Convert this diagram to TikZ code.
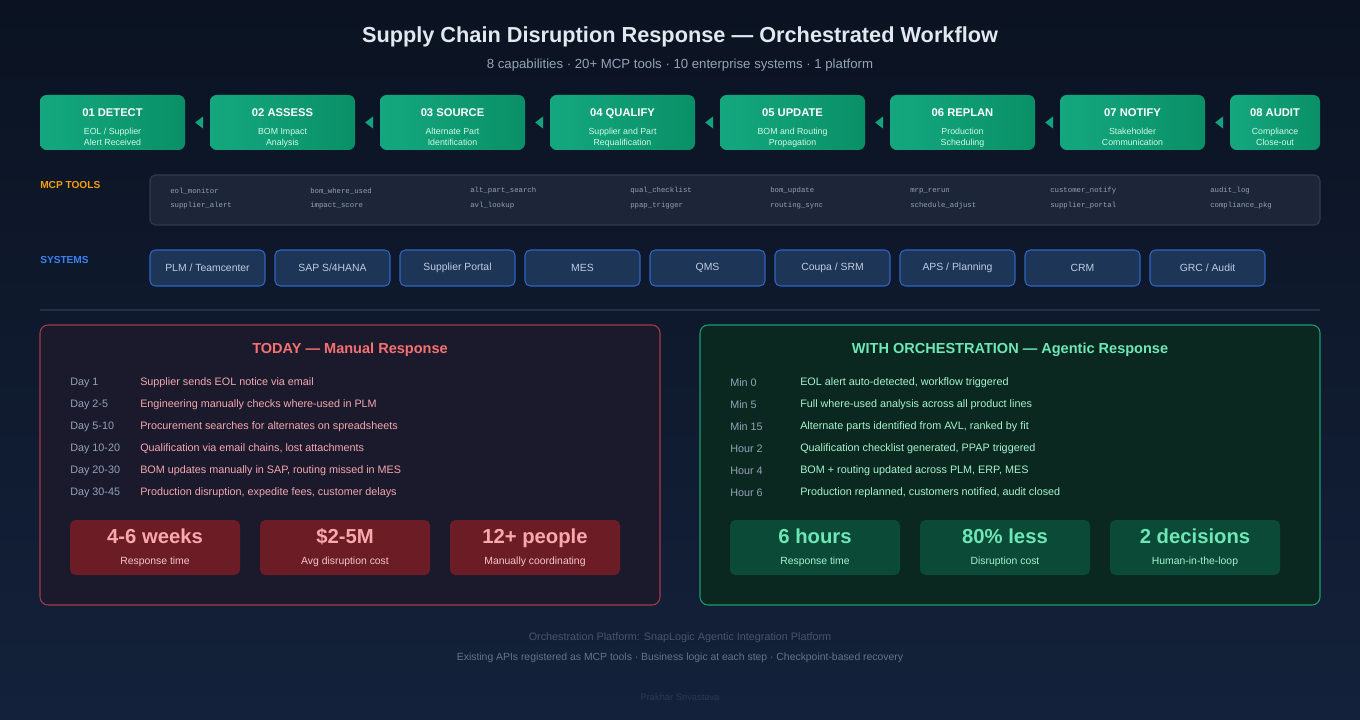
\documentclass[tikz,border=0pt]{standalone}
\usepackage{fontspec}
\setmainfont{Liberation Sans}
\setmonofont{Liberation Mono}
\usetikzlibrary{shapes.geometric,positioning,calc}

\definecolor{bgtop}{HTML}{0B1322}
\definecolor{bgbot}{HTML}{13213A}
\definecolor{titlec}{HTML}{E2E8F0}
\definecolor{subc}{HTML}{94A3B8}
\definecolor{stepl}{HTML}{14A87F}
\definecolor{stepr}{HTML}{0A9067}
\definecolor{stepsub}{HTML}{D1FAE5}
\definecolor{tipc}{HTML}{14A37F}
\definecolor{mcpc}{HTML}{F59E0B}
\definecolor{sysc}{HTML}{3B82F6}
\definecolor{toolfill}{HTML}{1C2638}
\definecolor{tooldraw}{HTML}{2F3B4F}
\definecolor{toolc}{HTML}{94A3B8}
\definecolor{sysfill}{HTML}{1D3557}
\definecolor{sysdraw}{HTML}{2F64C4}
\definecolor{systext}{HTML}{C0CDE0}
\definecolor{divc}{HTML}{233047}
\definecolor{redfill}{HTML}{1B1A2D}
\definecolor{reddraw}{HTML}{A53A48}
\definecolor{redtitle}{HTML}{F87171}
\definecolor{redtext}{HTML}{F4A7AE}
\definecolor{redstat}{HTML}{6B1C24}
\definecolor{redbig}{HTML}{F9A8AE}
\definecolor{redsmall}{HTML}{F5C6CA}
\definecolor{grnfill}{HTML}{0A2820}
\definecolor{grndraw}{HTML}{1D9A72}
\definecolor{grntitle}{HTML}{6EE7B7}
\definecolor{grntext}{HTML}{A7F3D0}
\definecolor{grnstat}{HTML}{0A4A37}
\definecolor{foot}{HTML}{475569}
\definecolor{foottwo}{HTML}{64748B}
\definecolor{authc}{HTML}{2B3A52}

\newcommand{\stepcard}[3]{\rule{0pt}{15pt}{\color{white}\bfseries\fontsize{8.4}{10}\selectfont #1}\\[4.75pt]#2\\#3\rule[-2pt]{0pt}{2pt}}
\newcommand{\bignum}[2]{{\color{#1}\bfseries\fontsize{15.2}{17}\selectfont #2}}

\begin{document}
\begin{tikzpicture}[x=0.75pt, y=-0.75pt]
    \tikzset{
        stepbox/.style={rectangle, rounded corners=5pt, left color=stepl, right color=stepr, minimum height=41.25pt, minimum width=108.75pt, align=center, text=stepsub, font=\fontsize{6.6}{8.25}\selectfont, inner sep=0pt},
        flowtip/.style={isosceles triangle, isosceles triangle apex angle=75, shape border rotate=180, fill=tipc, inner sep=0pt, minimum height=6pt, minimum width=7.5pt, xshift=2pt},
        rowlabel/.style={font=\bfseries\fontsize{7.6}{9}\selectfont, anchor=west, inner sep=0pt},
        tool/.style={font=\ttfamily\fontsize{5.5}{7}\selectfont, text=toolc, anchor=west, inner sep=0pt},
        sysbox/.style={draw=sysdraw, fill=sysfill, rectangle, rounded corners=4pt, line width=0.8pt, minimum height=27pt, minimum width=86.25pt, text=systext, font=\fontsize{7.8}{9}\selectfont},
        panel/.style={rectangle, rounded corners=6pt, line width=0.8pt, minimum width=465pt, minimum height=210pt},
        paneltitle/.style={font=\bfseries\fontsize{10.9}{13}\selectfont},
        when/.style={font=\fontsize{8.1}{10}\selectfont, text=subc, anchor=west, inner sep=0pt},
        what/.style={font=\fontsize{8.1}{10}\selectfont, anchor=west, inner sep=0pt},
        stat/.style={rectangle, rounded corners=4pt, minimum width=127.5pt, minimum height=41.25pt, align=center, inner sep=0pt, font=\fontsize{7.8}{9}\selectfont}
    }

    % Background
    \fill[top color=bgtop, bottom color=bgbot] (0,0) rectangle (1360,720);
    \useasboundingbox (0,0) rectangle (1360,720);

    % Heading
    \node[text=titlec, font=\bfseries\fontsize{16.3}{19}\selectfont] (title) at (680,37) {Supply Chain Disruption Response — Orchestrated Workflow};
    \node[text=subc, font=\fontsize{9.9}{12}\selectfont] (subtitle) at (680,65) {8 capabilities · 20+ MCP tools · 10 enterprise systems · 1 platform};

    % Workflow steps
    \node[stepbox] (s1) at (112.5,122.5) {\stepcard{01 DETECT}{EOL / Supplier}{Alert Received}};
    \node[stepbox] (s2) at (282.5,122.5) {\stepcard{02 ASSESS}{BOM Impact}{Analysis}};
    \node[stepbox] (s3) at (452.5,122.5) {\stepcard{03 SOURCE}{Alternate Part}{Identification}};
    \node[stepbox] (s4) at (622.5,122.5) {\stepcard{04 QUALIFY}{Supplier and Part}{Requalification}};
    \node[stepbox] (s5) at (792.5,122.5) {\stepcard{05 UPDATE}{BOM and Routing}{Propagation}};
    \node[stepbox] (s6) at (962.5,122.5) {\stepcard{06 REPLAN}{Production}{Scheduling}};
    \node[stepbox] (s7) at (1132.5,122.5) {\stepcard{07 NOTIFY}{Stakeholder}{Communication}};
    \node[stepbox, minimum width=67.5pt] (s8) at (1275,122.5) {\stepcard{08 AUDIT}{Compliance}{Close-out}};

    % Step markers
    \path (s2.west) -- node[flowtip] {} (s1.east);
    \path (s3.west) -- node[flowtip] {} (s2.east);
    \path (s4.west) -- node[flowtip] {} (s3.east);
    \path (s5.west) -- node[flowtip] {} (s4.east);
    \path (s6.west) -- node[flowtip] {} (s5.east);
    \path (s7.west) -- node[flowtip] {} (s6.east);
    \path (s8.west) -- node[flowtip] {} (s7.east);

    % MCP tools row
    \node[rowlabel, text=mcpc] (mcp) at (40,185) {MCP TOOLS};
    \node[draw=tooldraw, fill=toolfill, rectangle, rounded corners=4pt, line width=0.8pt, minimum width=877.5pt, minimum height=37.5pt] (tools) at (735,200) {};
    \node[tool] (t1a) at (170,191) {eol\_monitor};
    \node[tool] (t1b) at (170,206) {supplier\_alert};
    \node[tool] (t2a) at (310,191) {bom\_where\_used};
    \node[tool] (t2b) at (310,206) {impact\_score};
    \node[tool] (t3a) at (470,191) {alt\_part\_search};
    \node[tool] (t3b) at (470,206) {avl\_lookup};
    \node[tool] (t4a) at (630,191) {qual\_checklist};
    \node[tool] (t4b) at (630,206) {ppap\_trigger};
    \node[tool] (t5a) at (770,191) {bom\_update};
    \node[tool] (t5b) at (770,206) {routing\_sync};
    \node[tool] (t6a) at (910,191) {mrp\_rerun};
    \node[tool] (t6b) at (910,206) {schedule\_adjust};
    \node[tool] (t7a) at (1050,191) {customer\_notify};
    \node[tool] (t7b) at (1050,206) {supplier\_portal};
    \node[tool] (t8a) at (1210,191) {audit\_log};
    \node[tool] (t8b) at (1210,206) {compliance\_pkg};

    % Systems row
    \node[rowlabel, text=sysc] (sys) at (40,260) {SYSTEMS};
    \node[sysbox] (y1) at (207.5,268) {PLM / Teamcenter};
    \node[sysbox] (y2) at (332.5,268) {SAP S/4HANA};
    \node[sysbox] (y3) at (457.5,268) {Supplier Portal};
    \node[sysbox] (y4) at (582.5,268) {MES};
    \node[sysbox] (y5) at (707.5,268) {QMS};
    \node[sysbox] (y6) at (832.5,268) {Coupa / SRM};
    \node[sysbox] (y7) at (957.5,268) {APS / Planning};
    \node[sysbox] (y8) at (1082.5,268) {CRM};
    \node[sysbox] (y9) at (1207.5,268) {GRC / Audit};

    % Divider
    \coordinate (dl) at (40,310);
    \coordinate (dr) at (1320,310);
    \draw[divc, line width=0.8pt] (dl) -- (dr);

    % Left panel (today)
    \node[panel, draw=reddraw, fill=redfill] (today) at (350,465) {};
    \node[paneltitle, text=redtitle] (todayt) at (350,350) {TODAY — Manual Response};
    \node[when] (ta1) at (70,383) {Day 1};
    \node[what, text=redtext] (tb1) at (140,383) {Supplier sends EOL notice via email};
    \node[when] (ta2) at (70,405) {Day 2-5};
    \node[what, text=redtext] (tb2) at (140,405) {Engineering manually checks where-used in PLM};
    \node[when] (ta3) at (70,427) {Day 5-10};
    \node[what, text=redtext] (tb3) at (140,427) {Procurement searches for alternates on spreadsheets};
    \node[when] (ta4) at (70,449) {Day 10-20};
    \node[what, text=redtext] (tb4) at (140,449) {Qualification via email chains, lost attachments};
    \node[when] (ta5) at (70,471) {Day 20-30};
    \node[what, text=redtext] (tb5) at (140,471) {BOM updates manually in SAP, routing missed in MES};
    \node[when] (ta6) at (70,493) {Day 30-45};
    \node[what, text=redtext] (tb6) at (140,493) {Production disruption, expedite fees, customer delays};
    \node[stat, fill=redstat, text=redsmall] (tc1) at (155,547.5) {\bignum{redbig}{4-6 weeks}\\[7pt]Response time};
    \node[stat, fill=redstat, text=redsmall] (tc2) at (345,547.5) {\bignum{redbig}{\$2-5M}\\[7pt]Avg disruption cost};
    \node[stat, fill=redstat, text=redsmall] (tc3) at (535,547.5) {\bignum{redbig}{12+ people}\\[7pt]Manually coordinating};

    % Right panel (with orchestration)
    \node[panel, draw=grndraw, fill=grnfill] (orch) at (1010,465) {};
    \node[paneltitle, text=grntitle] (orcht) at (1010,350) {WITH ORCHESTRATION — Agentic Response};
    \node[when] (oa1) at (730,383) {Min 0};
    \node[what, text=grntext] (ob1) at (800,383) {EOL alert auto-detected, workflow triggered};
    \node[when] (oa2) at (730,405) {Min 5};
    \node[what, text=grntext] (ob2) at (800,405) {Full where-used analysis across all product lines};
    \node[when] (oa3) at (730,427) {Min 15};
    \node[what, text=grntext] (ob3) at (800,427) {Alternate parts identified from AVL, ranked by fit};
    \node[when] (oa4) at (730,449) {Hour 2};
    \node[what, text=grntext] (ob4) at (800,449) {Qualification checklist generated, PPAP triggered};
    \node[when] (oa5) at (730,471) {Hour 4};
    \node[what, text=grntext] (ob5) at (800,471) {BOM + routing updated across PLM, ERP, MES};
    \node[when] (oa6) at (730,493) {Hour 6};
    \node[what, text=grntext] (ob6) at (800,493) {Production replanned, customers notified, audit closed};
    \node[stat, fill=grnstat, text=grntext] (oc1) at (815,547.5) {\bignum{grntitle}{6 hours}\\[7pt]Response time};
    \node[stat, fill=grnstat, text=grntext] (oc2) at (1005,547.5) {\bignum{grntitle}{80\% less}\\[7pt]Disruption cost};
    \node[stat, fill=grnstat, text=grntext] (oc3) at (1195,547.5) {\bignum{grntitle}{2 decisions}\\[7pt]Human-in-the-loop};

    % Footer
    \node[text=foot, font=\fontsize{8.1}{10}\selectfont] (plat) at (680,638) {Orchestration Platform: SnapLogic Agentic Integration Platform};
    \node[text=foottwo, font=\fontsize{7.8}{9}\selectfont] (apis) at (680,658) {Existing APIs registered as MCP tools · Business logic at each step · Checkpoint-based recovery};
    \node[text=authc, font=\fontsize{7}{8}\selectfont] (auth) at (680,697) {Prakhar Srivastava};

\end{tikzpicture}
\end{document}
